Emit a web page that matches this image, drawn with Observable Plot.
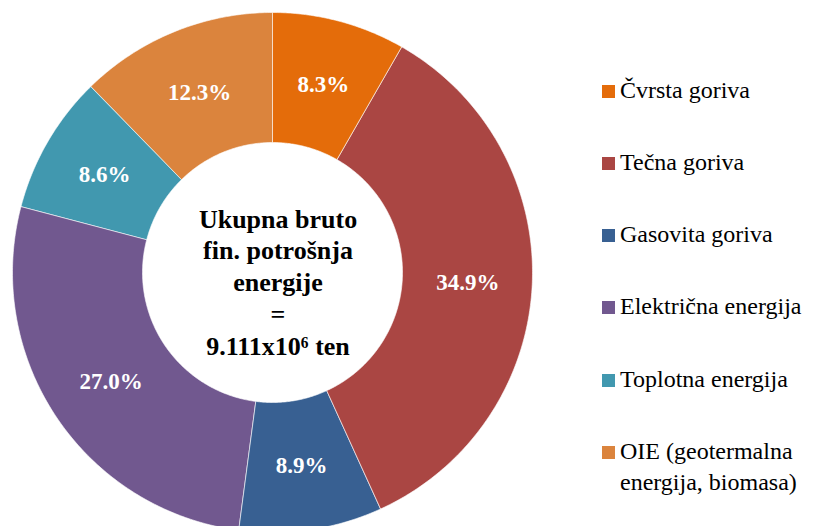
<!DOCTYPE html>
<html><head><meta charset="utf-8">
<script src="https://cdn.jsdelivr.net/npm/d3@7"></script>
<script src="https://cdn.jsdelivr.net/npm/@observablehq/plot@0.6"></script>
<style>
body{margin:0;background:#fff;}
#wrap{position:relative;width:823px;height:526px;overflow:hidden;font-family:'Liberation Serif',serif;}
#wrap svg{position:absolute;left:0;top:0;}
.item{position:absolute;left:602px;display:flex;align-items:flex-start;font-size:24px;line-height:31px;color:#000;white-space:pre;}
.sw{width:13px;height:13px;margin-top:10px;margin-right:5px;flex:none;}
</style></head><body><div id="wrap"></div>
<script>
// ---- data ----
const categories = ["Čvrsta goriva", "Tečna goriva", "Gasovita goriva", "Električna energija", "Toplotna energija", "OIE (geotermalna energija, biomasa)"];
const legendLabels = ["Čvrsta goriva", "Tečna goriva", "Gasovita goriva", "Električna energija", "Toplotna energija", "OIE (geotermalna\nenergija, biomasa)"];
const shares = [8.3, 34.9, 8.9, 27.0, 8.6, 12.3];
const colors = ["#E46C0A", "#AA4643", "#386092", "#71588F", "#4198AF", "#DB843D"];
const centerLines = ["Ukupna bruto", "fin. potrošnja", "energije", "=", "9.111x10⁶ ten"];

// ---- layout ----
const W = 823, H = 526;
const cx = 272.5, cy = 272.5, R = 260;
const inner = 0.5;      // inner radius / outer radius
const labelR = 0.75;
const fontStack = "'Liberation Serif', serif";

const rows = categories.map((name, i) => ({name, share: shares[i]}));
const arcs = d3.pie().sort(null).value(d => d.share)(rows);

// ring polygons (inner edge x1/y1, outer edge x2/y2)
const ring = [];
for (const a of arcs) {
  const n = Math.max(2, Math.ceil((a.endAngle - a.startAngle) / 0.01));
  for (let k = 0; k <= n; k++) {
    const t = a.startAngle + (a.endAngle - a.startAngle) * k / n;
    ring.push({
      name: a.data.name,
      x1: inner * Math.sin(t), y1: inner * Math.cos(t),
      x2: Math.sin(t), y2: Math.cos(t)
    });
  }
}
const labels = arcs.map(a => {
  const m = (a.startAngle + a.endAngle) / 2;
  return {name: a.data.name, x: labelR * Math.sin(m), y: labelR * Math.cos(m), text: a.data.share.toFixed(1) + "%"};
});

const plot = Plot.plot({
  width: W, height: H,
  margin: 0,
  style: {fontFamily: fontStack},
  x: {domain: [-1, 1], range: [cx - R, cx + R], axis: null},
  y: {domain: [-1, 1], range: [cy + R, cy - R], axis: null},
  color: {domain: categories, range: colors},
  marks: [
    Plot.area(ring, {x1: "x1", y1: "y1", x2: "x2", y2: "y2", z: "name", fill: "name", stroke: "white", strokeWidth: 0.6, curve: "linear"}),
    Plot.text(labels, {x: "x", y: "y", text: "text", fill: "white", fontSize: 23, fontWeight: "bold"}),
    Plot.text([{x: 0, y: 0, t: centerLines.join("\n")}], {x: "x", y: "y", text: "t", fill: "black", fontSize: 26, fontWeight: "bold", lineHeight: 1.22, dx: 5, dy: 8})
  ]
});

const wrap = document.getElementById("wrap");
wrap.appendChild(plot);

// legend (colors from the plot's color scale)
const color = plot.scale("color");
const legendTop = 91.5, legendStep = 72.3;
categories.forEach((c, i) => {
  const item = document.createElement("div");
  item.className = "item";
  item.style.top = (legendTop + legendStep * i - 17) + "px";
  const sw = document.createElement("div");
  sw.className = "sw";
  sw.style.background = color.apply(c);
  const tx = document.createElement("div");
  tx.style.fontFamily = "'Liberation Serif'";
  tx.textContent = legendLabels[i];
  item.appendChild(sw); item.appendChild(tx);
  wrap.appendChild(item);
});
</script></body></html>
